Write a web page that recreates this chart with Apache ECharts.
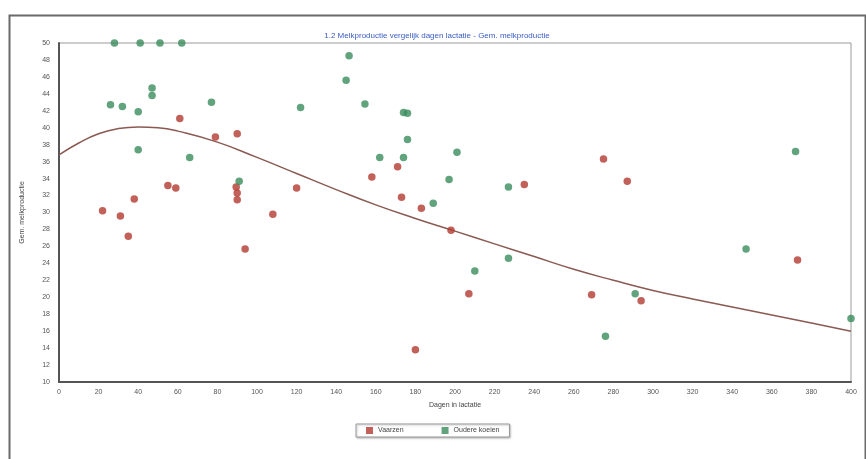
<!DOCTYPE html>
<html>
<head>
<meta charset="utf-8">
<script src="https://cdn.jsdelivr.net/npm/echarts@6/dist/echarts.min.js"></script>
<style>html,body{margin:0;padding:0;background:#fff}#c{width:866px;height:459px}</style>
</head>
<body>
<div id="c"></div>
<script>
const titleText = "1.2 Melkproductie vergelijk dagen lactatie - Gem. melkproductie";
const xName = "Dagen in lactatie";
const yName = "Gem. melkproductie";
const seriesNames = ["Vaarzen", "Oudere koeien"];

const vaarzen = [
  [22, 30.2], [31, 29.6], [35, 27.2], [38, 31.6], [55, 33.2], [59, 32.9], [61, 41.1],
  [79, 38.9], [90, 39.3], [89.5, 33.0], [90, 32.3], [90, 31.5], [94, 25.7], [108, 29.8],
  [120, 32.9], [158, 34.2], [171, 35.4], [173, 31.8], [180, 13.8], [183, 30.5], [198, 27.9],
  [207, 20.4], [235, 33.3], [269, 20.3], [275, 36.3], [287, 33.7], [294, 19.6], [373, 24.4]
];

const oudereKoeien = [
  [28, 50], [41, 50], [51, 50], [62, 50], [26, 42.7], [32, 42.5], [40, 41.9], [47, 44.7],
  [47, 43.8], [77, 43.0], [40, 37.4], [66, 36.5], [91, 33.7], [122, 42.4], [145, 45.6],
  [146.5, 48.5], [154.5, 42.8], [162, 36.5], [174, 41.8], [176, 41.7], [176, 38.6],
  [174, 36.5], [189, 31.1], [197, 33.9], [201, 37.1], [210, 23.1], [227, 24.6], [227, 33.0],
  [276, 15.4], [291, 20.4], [347, 25.7], [372, 37.2], [400, 17.5]
];

const curveDays = [0, 10, 20, 30, 40, 50, 60, 80, 100, 120, 140, 160, 180, 200, 220, 240, 260, 280, 300, 320, 340, 360, 380, 400];
const curveValues = [36.8, 38.2, 39.3, 39.9, 40.1, 40.0, 39.6, 38.3, 36.5, 34.6, 32.7, 30.9, 29.3, 27.8, 26.3, 24.8, 23.3, 22.0, 20.8, 19.8, 18.85, 17.9, 16.95, 16.0];

const chart = echarts.init(document.getElementById('c'));
const labelStyle = { fontFamily: 'Liberation Sans, Arial, sans-serif', fontSize: 7, color: '#555' };

chart.setOption({
  animation: false,
  textStyle: { fontFamily: 'Liberation Sans, Arial, sans-serif' },
  graphic: [{
    type: 'rect', left: 7, top: 13, silent: true,
    shape: { width: 856, height: 470 },
    style: { fill: 'none', stroke: '#6a6a6a', lineWidth: 2 }
  }],
  title: {
    text: titleText, left: 432, textAlign: 'center', top: 27,
    textStyle: { fontSize: 8, fontWeight: 'normal', color: '#3a5cc0' }
  },
  grid: { left: 59, right: 15, top: 43, bottom: 77, show: true, borderColor: '#9a9a9a', borderWidth: 1 },
  legend: {
    data: seriesNames, left: 356, top: 424, icon: 'rect', itemWidth: 7, itemHeight: 7,
    itemGap: 38, padding: [3, 10], borderColor: '#999', borderWidth: 1,
    shadowColor: 'rgba(0,0,0,0.25)', shadowBlur: 2, shadowOffsetX: 1, shadowOffsetY: 1, backgroundColor: '#fff',
    textStyle: { fontSize: 7, color: '#444' }
  },
  xAxis: {
    type: 'value', min: 0, max: 400, interval: 20,
    name: xName, nameLocation: 'middle', nameGap: 20,
    nameTextStyle: { fontSize: 7, color: '#444' },
    axisLine: { show: true, onZero: false, lineStyle: { color: '#555', width: 2 } },
    axisTick: { show: false },
    splitLine: { show: false },
    axisLabel: Object.assign({ margin: 7 }, labelStyle)
  },
  yAxis: {
    type: 'value', min: 10, max: 50, interval: 2,
    name: yName, nameLocation: 'middle', nameGap: 33,
    nameTextStyle: { fontSize: 7, color: '#444' },
    axisLine: { show: true, onZero: false, lineStyle: { color: '#555', width: 2 } },
    axisTick: { show: false },
    splitLine: { show: false },
    axisLabel: Object.assign({ margin: 9 }, labelStyle)
  },
  series: [
    {
      name: 'curve', type: 'line', smooth: true, showSymbol: false, silent: true,
      data: curveDays.map((d, i) => [d, curveValues[i]]),
      lineStyle: { color: '#8a5a52', width: 1.5 }, z: 1
    },
    {
      name: seriesNames[0], type: 'scatter', symbolSize: 7.5, data: vaarzen,
      itemStyle: { color: '#b23a30' }, z: 3
    },
    {
      name: seriesNames[1], type: 'scatter', symbolSize: 7.5, data: oudereKoeien,
      itemStyle: { color: '#3a8c5c' }, z: 3
    }
  ]
});
</script>
</body>
</html>
